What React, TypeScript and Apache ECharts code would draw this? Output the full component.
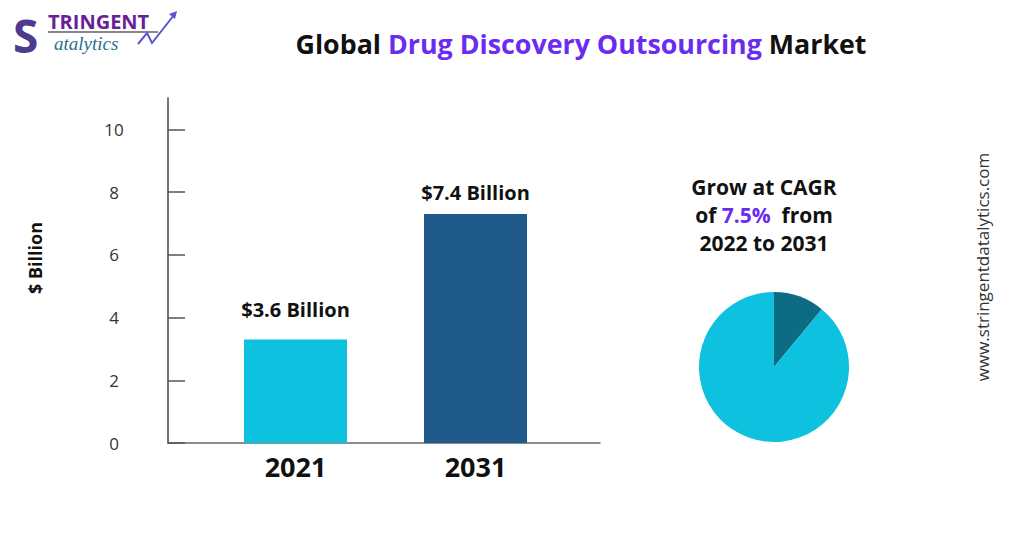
import React, { useEffect, useRef } from "react";
import * as echarts from "echarts";

const years = ["2021", "2031"];
const barHeights = [3.3, 7.3];
const barLabels = ["$3.6 Billion", "$7.4 Billion"];
const yTicks = [0, 2, 4, 6, 8, 10];
const pieNames = ["Growth", "Base"];
const pieValues = [11, 89];
const cagrValue = "7.5%";
const cagrStart = "2022";
const cagrEnd = "2031";

const barColors = ["#0DC1DF", "#1F5A8A"];
const pieColors = ["#0E6B84", "#0DC1DF"];
const labelDistances = [20, 12];
const FONT = "'Open Sans', 'DejaVu Sans', sans-serif";
const PURPLE = "#6A2CF0";

export default function App() {
  const ref = useRef<HTMLDivElement>(null);

  useEffect(() => {
    if (!ref.current) return;
    const chart = echarts.init(ref.current, null, { renderer: "svg" });
    const option: any = {
      animation: false,
      backgroundColor: "#ffffff",
      textStyle: { fontFamily: FONT },
      grid: [
        { left: 205.5, width: 360, top: 98, height: 345 },
        { left: 168, width: 432, top: 98, height: 345 },
      ],
      xAxis: [
        {
          gridIndex: 0,
          type: "category",
          data: years,
          axisLine: { show: false },
          axisTick: { show: false },
          axisLabel: {
            fontSize: 27,
            fontWeight: "bold",
            color: "#111",
            margin: 10,
            fontFamily: FONT,
          },
        },
        {
          gridIndex: 1,
          type: "value",
          min: 0,
          max: 1,
          axisLine: { show: true, onZero: false, lineStyle: { color: "#666", width: 1.5 } },
          axisTick: { show: false },
          axisLabel: { show: false },
          splitLine: { show: false },
        },
      ],
      yAxis: [
        {
          gridIndex: 0,
          type: "value",
          min: 0,
          max: 11,
          interval: 2,
          offset: 37.5,
          axisLine: { show: true, lineStyle: { color: "#444", width: 1.5 } },
          axisTick: {
            show: true,
            inside: true,
            length: 17,
            customValues: yTicks,
            lineStyle: { color: "#555", width: 1.5 },
          },
          axisLabel: {
            customValues: yTicks,
            align: "center",
            margin: 54,
            fontSize: 17,
            color: "#333",
            fontFamily: FONT,
          },
          splitLine: { show: false },
        },
        { gridIndex: 1, type: "value", min: 0, max: 1, show: false, splitLine: { show: false } },
      ],
      series: [
        {
          type: "bar",
          xAxisIndex: 0,
          yAxisIndex: 0,
          barWidth: 103,
          data: barHeights.map((v, i) => ({
            value: v,
            itemStyle: { color: barColors[i] },
            label: { distance: labelDistances[i] },
          })),
          label: {
            show: true,
            position: "top",
            formatter: (p: any) => barLabels[p.dataIndex],
            fontSize: 20,
            fontWeight: "bold",
            color: "#111",
            fontFamily: FONT,
          },
        },
        {
          type: "pie",
          center: [774, 367],
          radius: 75,
          startAngle: 90,
          clockwise: true,
          silent: true,
          label: { show: false },
          labelLine: { show: false },
          data: pieNames.map((n, i) => ({
            name: n,
            value: pieValues[i],
            itemStyle: { color: pieColors[i] },
          })),
        },
      ],
      graphic: [
        {
          type: "text",
          x: 581,
          y: 43,
          style: {
            text: "{a|Global }{b|Drug Discovery Outsourcing}{a| Market}",
            textAlign: "center",
            textVerticalAlign: "middle",
            rich: {
              a: { fontSize: 26.8, fontWeight: "bold", fill: "#111", fontFamily: FONT },
              b: { fontSize: 26.8, fontWeight: "bold", fill: PURPLE, fontFamily: FONT },
            },
          },
        },
        {
          type: "text",
          x: 764,
          y: 215,
          style: {
            text: `{a|Grow at CAGR}\n{a|of }{p|${cagrValue}}{a|  from}\n{a|${cagrStart} to ${cagrEnd}}`,
            textAlign: "center",
            textVerticalAlign: "middle",
            rich: {
              a: { fontSize: 21, fontWeight: "bold", fill: "#111", lineHeight: 28, fontFamily: FONT },
              p: { fontSize: 21, fontWeight: "bold", fill: PURPLE, lineHeight: 28, fontFamily: FONT },
            },
          },
        },
        {
          type: "text",
          x: 35,
          y: 258,
          rotation: Math.PI / 2,
          style: {
            text: "$ Billion",
            textAlign: "center",
            textVerticalAlign: "middle",
            fontSize: 18,
            fontWeight: "bold",
            fill: "#111",
            fontFamily: FONT,
          },
        },
        {
          type: "text",
          x: 982,
          y: 267,
          rotation: Math.PI / 2,
          style: {
            text: "www.stringentdatalytics.com",
            textAlign: "center",
            textVerticalAlign: "middle",
            fontSize: 17,
            fill: "#333",
            fontFamily: FONT,
          },
        },
        // logo
        {
          type: "text",
          x: 13,
          y: 35,
          style: {
            text: "S",
            fontSize: 46,
            fontWeight: "bold",
            fontFamily: FONT,
            textVerticalAlign: "middle",
            fill: "#4E3A8E",
          },
        },
        {
          type: "text",
          x: 48,
          y: 11,
          style: {
            text: "TRINGENT",
            fontSize: 20,
            fontWeight: "bold",
            fontFamily: FONT,
            fill: "#6A1E9A",
          },
        },
        {
          type: "line",
          shape: { x1: 48, y1: 32, x2: 158, y2: 32 },
          style: { stroke: "#888", lineWidth: 2 },
        },
        {
          type: "text",
          x: 54,
          y: 34,
          style: {
            text: "atalytics",
            fontSize: 19,
            fontStyle: "italic",
            fontFamily: "'Liberation Serif', serif",
            fill: "#2A6F8A",
          },
        },
        {
          type: "polyline",
          shape: { points: [[138, 44], [147, 33], [152, 43], [174, 15]] },
          style: { stroke: "#5A55D0", lineWidth: 2, fill: "none" },
        },
        {
          type: "polygon",
          shape: { points: [[177, 11], [169, 14], [175, 19]] },
          style: { fill: "#5A55D0" },
        },
      ],
    };
    chart.setOption(option);
    return () => chart.dispose();
  }, []);

  return (
    <div
      ref={ref}
      style={{ position: "absolute", left: 0, top: 0, width: 1024, height: 535, background: "#fff" }}
    />
  );
}
